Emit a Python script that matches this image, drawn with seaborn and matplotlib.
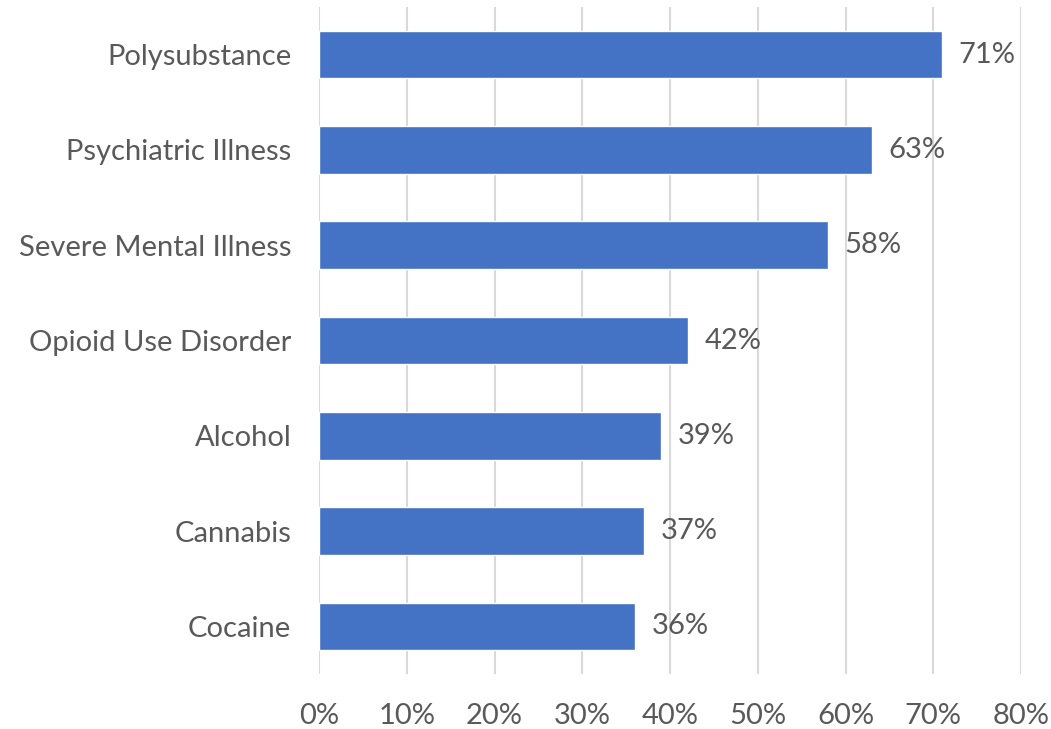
import matplotlib
matplotlib.use("Agg")
import matplotlib.pyplot as plt
import seaborn as sns
import pandas as pd

categories = ["Polysubstance", "Psychiatric Illness", "Severe Mental Illness",
              "Opioid Use Disorder", "Alcohol", "Cannabis", "Cocaine"]
values = [71, 63, 58, 42, 39, 37, 36]
x_ticks = [0, 10, 20, 30, 40, 50, 60, 70, 80]
x_tick_labels = [f"{t}%" for t in x_ticks]

df = pd.DataFrame({"category": categories, "value": values})

sns.set_theme(style="white")
plt.rcParams["font.family"] = ["Lato", "DejaVu Sans"]
text_color = "#595959"
fs = 21

fig = plt.figure(figsize=(10.51, 7.29), dpi=100)
ax = fig.add_axes([319 / 1051, 1 - 674 / 729, (1021 - 319) / 1051, (674 - 7) / 729])

sns.barplot(data=df, x="value", y="category", order=categories,
            color="#4472C4", saturation=1, width=0.5, ax=ax, zorder=3)

ax.set_xlim(0, 80)
ax.set_ylim(len(categories) - 0.5, -0.5)
ax.set_xticks(x_ticks)
ax.set_xticklabels(x_tick_labels)
ax.grid(axis="x", color="#D9D9D9", linewidth=1.5, zorder=0)
ax.set_axisbelow(True)
for s in ax.spines.values():
    s.set_visible(False)
ax.set_xlabel("")
ax.set_ylabel("")
ax.tick_params(axis="x", length=0, pad=21, labelsize=fs, labelcolor=text_color)
ax.tick_params(axis="y", length=0, pad=20, labelsize=fs, labelcolor=text_color)

for i, v in enumerate(values):
    ax.annotate(f"{v}%", xy=(v, i), xytext=(12, 0), textcoords="offset points",
                va="center", ha="left", fontsize=fs, color=text_color)

fig.savefig("out.png", dpi=100)
